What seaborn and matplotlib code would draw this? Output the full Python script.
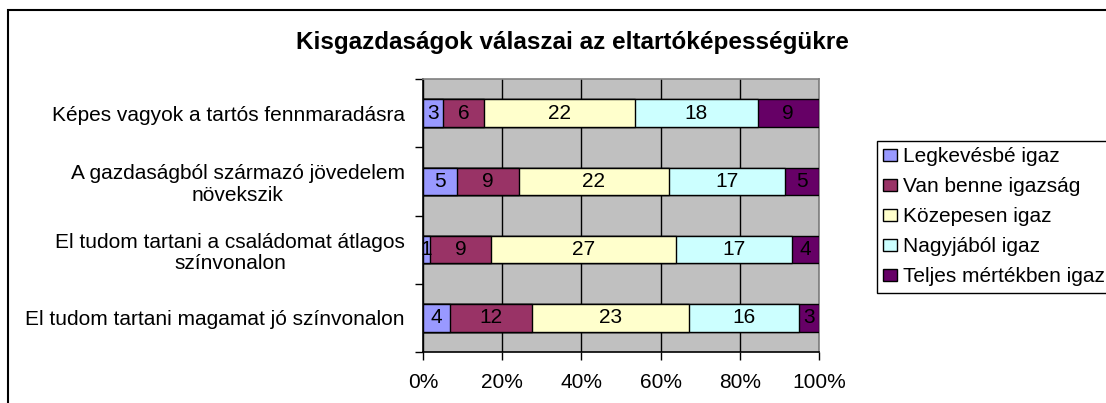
import numpy as np
import pandas as pd
import matplotlib.pyplot as plt
from matplotlib.patches import Rectangle
from matplotlib.ticker import FixedLocator, PercentFormatter
import seaborn as sns

# statements, top to bottom
statements = ["Képes vagyok a tartós fennmaradásra",
              "A gazdaságból származó jövedelem\nnövekszik",
              "El tudom tartani a családomat átlagos\nszínvonalon",
              "El tudom tartani magamat jó színvonalon"]
answers = ["Legkevésbé igaz", "Van benne igazság", "Közepesen igaz",
           "Nagyjából igaz", "Teljes mértékben igaz"]
least = [3, 5, 1, 4]
some = [6, 9, 9, 12]
medium = [22, 22, 27, 23]
mostly = [18, 17, 17, 16]
fully = [9, 5, 4, 3]
colors = ["#9999FF", "#993366", "#FFFFCC", "#CCFFFF", "#660066"]

counts = pd.DataFrame(dict(zip(answers, [least, some, medium, mostly, fully])),
                      index=statements)
pct = counts.div(counts.sum(axis=1), axis=0) * 100
right = pct.cumsum(axis=1)
left = right - pct

sns.set_style("white")
plt.rcParams["font.family"] = ["Liberation Sans", "DejaVu Sans"]
plt.rcParams["text.color"] = "black"
plt.rcParams["xtick.color"] = "black"
plt.rcParams["ytick.color"] = "black"
plt.rcParams["axes.labelcolor"] = "black"
FS = 15

fig = plt.figure(figsize=(11.06, 4.03), dpi=100)
ax = fig.add_axes([423 / 1106, 1 - 352 / 403, 396 / 1106, 273 / 403])
ax.set_facecolor("#C0C0C0")

# layered bars: draw the cumulative ends, longest first
for ans, col in reversed(list(zip(answers, colors))):
    d = pd.DataFrame({"stmt": statements, "end": right[ans].values})
    sns.barplot(data=d, x="end", y="stmt", orient="h", color=col,
                width=0.4, edgecolor="black", linewidth=1.0,
                saturation=1, ax=ax, label=ans, zorder=3)
handles, labels = ax.get_legend_handles_labels()
if ax.get_legend() is not None:
    ax.get_legend().remove()

for i, s in enumerate(statements):
    for ans in answers:
        ax.text(left.loc[s, ans] + pct.loc[s, ans] / 2, i,
                str(counts.loc[s, ans]), ha="center", va="center",
                fontsize=FS, color="black", zorder=4)

ax.set_xlim(0, 100)
ax.set_ylim(3.5, -0.5)
ax.xaxis.set_major_locator(FixedLocator([0, 20, 40, 60, 80, 100]))
ax.xaxis.set_major_formatter(PercentFormatter(decimals=0))
ax.grid(axis="x", color="black", linewidth=1.0, zorder=0)
ax.set_axisbelow(True)
ax.set_xlabel("")
ax.set_ylabel("")

ax.yaxis.set_minor_locator(FixedLocator(np.arange(-0.5, 4.0, 1.0)))
ax.tick_params(axis="y", which="major", length=0, pad=13, labelsize=FS)
ax.tick_params(axis="y", which="minor", length=6, width=1, direction="out", left=True)
ax.tick_params(axis="x", which="major", length=6, width=1, direction="out",
               bottom=True, pad=9, labelsize=FS)
for lab in ax.get_yticklabels():
    lab.set_multialignment("center")
    lab.set_linespacing(1.15)

for side in ["left", "bottom"]:
    ax.spines[side].set_color("black")
    ax.spines[side].set_linewidth(1.2)
for side in ["top", "right"]:
    ax.spines[side].set_color("#808080")
    ax.spines[side].set_linewidth(1.2)

fig.text(572 / 1106, 1 - 43 / 403, "Kisgazdaságok válaszai az eltartóképességükre",
         fontsize=17.5, fontweight="bold", ha="center", va="center")

order = [labels.index(a) for a in answers]
leg = fig.legend([handles[k] for k in order], [labels[k] for k in order],
                 loc="upper left", bbox_to_anchor=(877 / 1106, 1 - 141 / 403),
                 fontsize=FS, frameon=True, fancybox=False, framealpha=1,
                 edgecolor="black", handlelength=0.65, handleheight=0.55,
                 handletextpad=0.3, labelspacing=0.53, borderpad=0.3,
                 borderaxespad=0)
leg.get_frame().set_linewidth(1.0)

fig.add_artist(Rectangle((8 / 1106, -0.5), 1.5, 0.5 + 1 - 10 / 403,
                         transform=fig.transFigure, fill=False,
                         edgecolor="black", linewidth=1.5))

fig.savefig("out.png", dpi=100)
